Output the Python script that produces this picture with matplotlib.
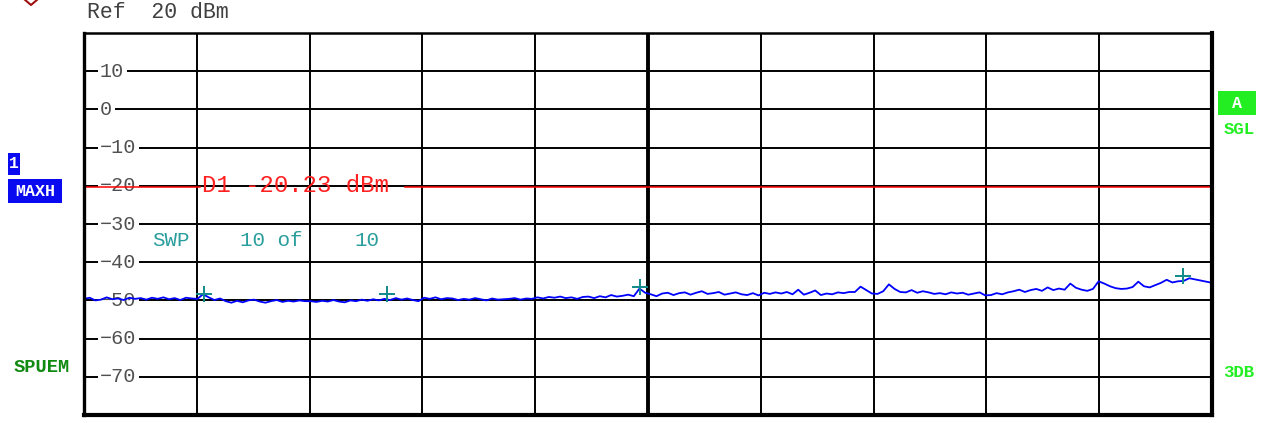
import numpy as np
import matplotlib
matplotlib.use("Agg")
import matplotlib.pyplot as plt
from matplotlib.lines import Line2D
from matplotlib.patches import Rectangle

# ---------------- data ----------------
ref_level = 20
y_bottom = -80
level_ticks = [10, 0, -10, -20, -30, -40, -50, -60, -70]
display_line = -20.23
display_label = "D1 -20.23 dBm"
sweep_text = ["SWP", "10 of", "10"]

trace_dbm = [
    # div 0
    -49.6, -49.3, -50.0, -49.8, -49.2, -49.7, -49.5, -49.9, -49.3, -49.6,
    -49.4, -49.8, -49.3, -49.6, -49.2, -49.7, -49.4, -49.9, -49.3, -49.5,
    # div 1
    -49.6, -48.4, -49.2, -49.9, -49.5, -50.2, -50.6, -50.1, -50.5, -50.0,
    -49.8, -50.3, -50.6, -50.2, -49.9, -50.4, -50.1, -50.3, -50.0, -50.2,
    # div 2
    -50.2, -50.4, -50.1, -50.3, -49.9, -50.3, -50.5, -50.0, -50.2, -49.8,
    -50.1, -49.7, -50.0, -49.6, -49.9, -49.4, -49.8, -49.5, -49.9, -50.2,
    # div 3
    -49.3, -49.6, -49.2, -49.7, -49.4, -49.5, -49.9, -49.6, -49.8, -49.4,
    -49.7, -50.0, -49.5, -49.8, -49.7, -49.6, -49.4, -49.8, -49.5, -49.6,
    # div 4
    -49.2, -49.5, -49.1, -49.3, -49.0, -49.4, -49.2, -49.6, -49.1, -49.0,
    -49.4, -48.9, -49.2, -48.6, -49.0, -48.8, -48.5, -48.9, -46.9, -48.0,
    # div 5
    -48.4, -48.9, -48.2, -48.0, -48.6, -48.1, -47.9, -48.5, -48.0, -47.6,
    -48.3, -48.1, -47.8, -48.5, -48.2, -47.9, -48.4, -48.6, -48.1, -48.7,
    # div 6
    -48.0, -48.3, -47.9, -48.2, -47.8, -48.4, -47.2, -48.5, -48.0, -47.4,
    -48.6, -48.2, -48.4, -47.9, -48.1, -47.8, -47.8, -46.4, -47.3, -48.2,
    # div 7
    -48.3, -47.6, -45.8, -47.0, -47.8, -47.9, -47.3, -48.0, -47.6, -47.9,
    -48.3, -48.1, -48.4, -47.9, -48.2, -48.0, -48.5, -48.2, -47.9, -48.7,
    # div 8
    -48.6, -48.1, -48.4, -47.9, -47.6, -47.2, -47.8, -47.3, -47.0, -47.5,
    -46.6, -47.3, -46.9, -47.2, -45.6, -46.7, -47.2, -47.5, -47.0, -45.0,
    # div 9
    -45.6, -46.3, -46.8, -47.0, -46.9, -46.5, -45.1, -46.3, -46.6, -46.0,
    -45.4, -44.6, -45.3, -45.0, -44.9, -44.2, -44.5, -44.8, -45.1, -45.4,
]

marker_div = [1.064, 2.686, 4.929, 9.743]
marker_dbm = [-48.2, -48.4, -46.6, -43.7]

# ---------------- figure ----------------
W, H = 1265, 423
fig = plt.figure(figsize=(W / 100, H / 100), dpi=100)
fig.patch.set_facecolor("white")

L, R, T, B = 84, 1212, 33, 415
ax = fig.add_axes([L / W, (H - B) / H, (R - L) / W, (B - T) / H])
ax.set_xlim(0, 10)
ax.set_ylim(y_bottom, ref_level)
ax.set_xticks([])
ax.set_yticks([])

MONO = ["Liberation Mono", "DejaVu Sans Mono"]

# grid
for i in range(1, 10):
    ax.axvline(i, color="black", lw=2.8 if i == 5 else 1.4, zorder=1)
for v in level_ticks:
    ax.axhline(v, color="black", lw=1.4, zorder=1)

# level labels inside the grid
for v in level_ticks:
    lab = str(v).replace("-", "\u2212")
    ax.text(0.142, v, lab, fontsize=14.5, family=MONO, color="#505050",
            ha="left", va="center", zorder=2,
            bbox=dict(boxstyle="square,pad=0.12", fc="white", ec="none"))

# display line
ax.axhline(display_line, xmin=0, xmax=0.103, color="#ff0000", lw=1.1, zorder=3)
ax.axhline(display_line, xmin=0.2846, xmax=1, color="#ff0000", lw=1.1, zorder=3)
ax.text(1.05, display_line + 0.3, display_label, fontsize=17.3, family=MONO,
        color="#ff2020", ha="left", va="center", zorder=4)

# sweep text
teal = "#2a9d9d"
ax.text(0.60, -34.2, sweep_text[0], fontsize=15, family=MONO, color=teal,
        ha="left", va="center", zorder=4)
ax.text(1.38, -34.2, sweep_text[1], fontsize=15, family=MONO, color=teal,
        ha="left", va="center", zorder=4)
ax.text(2.40, -34.2, sweep_text[2], fontsize=15, family=MONO, color=teal,
        ha="left", va="center", zorder=4)

# trace
freq = np.linspace(0, 10, len(trace_dbm))
ax.plot(freq, trace_dbm, color="#0000ff", lw=1.3, zorder=5)

# markers
ax.plot(marker_div, marker_dbm, ls="none", marker="+", markersize=12,
        mew=1.4, color="#108a8a", zorder=6)

# frame
for side, lw in (("left", 2.4), ("top", 1.8), ("right", 3.0), ("bottom", 3.0)):
    ax.spines[side].set_linewidth(lw)
    ax.spines[side].set_color("black")
    ax.spines[side].set_zorder(7)

# ---------------- annotations around the plot ----------------
def fx(px):
    return px / W

def fy(py):
    return 1 - py / H

def box(x0, y0, x1, y1, color):
    fig.add_artist(Rectangle((fx(x0), fy(y1)), fx(x1) - fx(x0), fy(y0) - fy(y1),
                             transform=fig.transFigure, fc=color, ec="none"))

fig.text(fx(87), fy(13), "Ref  20 dBm", fontsize=15.5, family=MONO,
         color="#404040", ha="left", va="center")

# red partial diamond at top-left
fig.add_artist(Line2D([fx(24), fx(31), fx(38)], [fy(-1), fy(5), fy(-1)],
                      color="#a01010", lw=1.5))

blue = "#0a0af0"
box(8, 153, 20, 175, blue)
fig.text(fx(14), fy(164), "1", fontsize=12, family=MONO, weight="bold",
         color="white", ha="center", va="center")
box(8, 179, 62, 203, blue)
fig.text(fx(35), fy(191), "MAXH", fontsize=12, family=MONO, weight="bold",
         color="white", ha="center", va="center")
fig.text(fx(42), fy(367), "SPUEM", fontsize=13.5, family=MONO, weight="bold",
         color="#108a10", ha="center", va="center")

green = "#22ee22"
box(1218, 91, 1256, 115, green)
fig.text(fx(1237), fy(103), "A", fontsize=12, family=MONO, weight="bold",
         color="white", ha="center", va="center")
fig.text(fx(1239), fy(130), "SGL", fontsize=12.5, family=MONO, weight="bold",
         color=green, ha="center", va="center")
fig.text(fx(1239), fy(372), "3DB", fontsize=12.5, family=MONO, weight="bold",
         color=green, ha="center", va="center")

fig.savefig("out.png", dpi=100, facecolor="white")
